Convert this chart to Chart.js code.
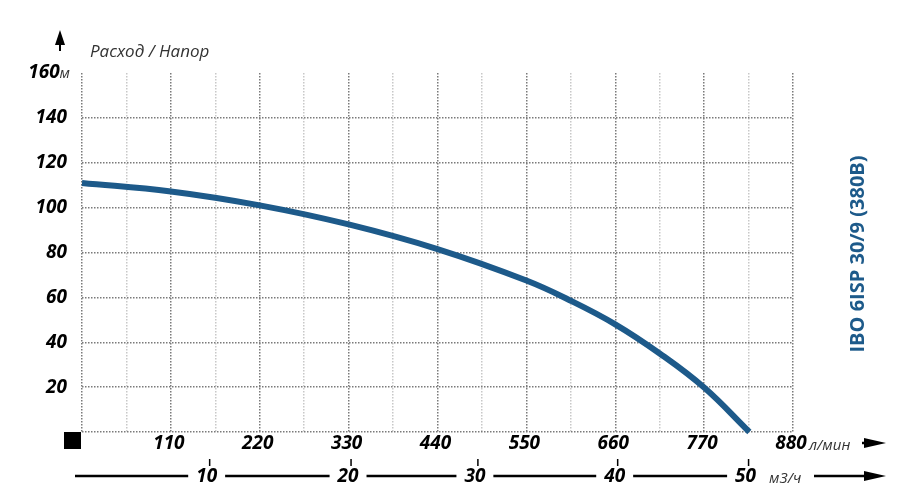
<!DOCTYPE html>
<html lang="ru">
<head>
    <meta charset="UTF-8">
    <title>IBO 6ISP 30/9 (380B)</title>
    <script src="https://cdn.jsdelivr.net/npm/chart.js"></script>
    <style>
        html, body { margin: 0; padding: 0; background: #fff; }
    </style>
</head>
<body>
<canvas id="pumpChart" width="915" height="501"></canvas>
<script>
    // расход, л/мин и напор, м
    const flow = [0, 110, 220, 330, 440, 550, 605, 660, 715, 770, 826];
    const head = [111, 107.2, 101, 92.5, 81.5, 67.5, 58.5, 48, 35, 19.8, 0];

    const headTicks = [20, 40, 60, 80, 100, 120, 140, 160];
    const flowTicks = [110, 220, 330, 440, 550, 660, 770, 880];
    // вторая шкала м3/ч и где её деления стоят на оси л/мин
    const m3hLabels = ['10', '20', '30', '40', '50'];
    const m3hAtFlow = [158, 333, 490, 663, 825];

    const title = 'IBO 6ISP 30/9 (380B)';
    const blue = '#1d5a8a';
    const boldFont = 'italic bold 19px "Open Sans"';
    const unitFont = 'italic 15px "Open Sans"';

    function arrow(ctx, x1, x2, y) {
        ctx.beginPath();
        ctx.moveTo(x1, y);
        ctx.lineTo(x2 - 14, y);
        ctx.lineWidth = 2.5;
        ctx.stroke();
        ctx.beginPath();
        ctx.moveTo(x2, y);
        ctx.lineTo(x2 - 22, y - 5);
        ctx.lineTo(x2 - 22, y + 5);
        ctx.closePath();
        ctx.fill();
    }

    const labelsPlugin = {
        id: 'labels',
        afterDraw(chart) {
            const ctx = chart.ctx;
            const xs = chart.scales.x, ys = chart.scales.y;
            ctx.save();
            ctx.fillStyle = '#000';
            ctx.strokeStyle = '#000';

            // шкала напора
            ctx.textBaseline = 'middle';
            headTicks.forEach(v => {
                const y = ys.getPixelForValue(v);
                if (v === 160) {
                    ctx.font = unitFont;
                    ctx.fillStyle = '#333';
                    ctx.textAlign = 'right';
                    ctx.fillText('м', 70, y + 1);
                    const w = ctx.measureText('м').width;
                    ctx.font = boldFont;
                    ctx.fillStyle = '#000';
                    ctx.fillText('160', 70 - w, y);
                } else {
                    ctx.font = boldFont;
                    ctx.textAlign = 'right';
                    ctx.fillText(String(v), 67, y);
                }
            });

            // шкала расхода
            ctx.textAlign = 'center';
            ctx.font = boldFont;
            flowTicks.forEach(v => {
                ctx.fillText(String(v), xs.getPixelForValue(v) - 2, 444);
            });
            ctx.font = unitFont;
            ctx.fillStyle = '#333';
            ctx.textAlign = 'left';
            ctx.fillText('л/мин', 809, 446);
            ctx.fillStyle = '#000';
            arrow(ctx, 862, 886, 443);

            // вторая ось м3/ч
            arrow(ctx, 75, 886, 476);
            ctx.font = boldFont;
            ctx.textAlign = 'center';
            m3hAtFlow.forEach((f, i) => {
                const x = xs.getPixelForValue(f);
                ctx.lineWidth = 1.5;
                ctx.beginPath();
                ctx.moveTo(x, 459);
                ctx.lineTo(x, 466);
                ctx.stroke();
                const w = ctx.measureText(m3hLabels[i]).width;
                ctx.fillStyle = '#fff';
                ctx.fillRect(x - 3 - w / 2 - 8, 466, w + 16, 20);
                ctx.fillStyle = '#000';
                ctx.fillText(m3hLabels[i], x - 3, 477);
            });
            ctx.fillStyle = '#fff';
            ctx.fillRect(758, 466, 56, 20);
            ctx.font = unitFont;
            ctx.fillStyle = '#333';
            ctx.textAlign = 'left';
            ctx.fillText('м3/ч', 769, 479);

            // квадрат в начале координат
            ctx.fillStyle = '#000';
            ctx.fillRect(64, 432, 17, 17);

            // стрелка вверх и подпись
            ctx.beginPath();
            ctx.moveTo(60, 30);
            ctx.lineTo(55, 45);
            ctx.lineTo(65, 45);
            ctx.closePath();
            ctx.fill();
            ctx.lineWidth = 2;
            ctx.beginPath();
            ctx.moveTo(60, 44);
            ctx.lineTo(60, 51);
            ctx.stroke();
            ctx.font = 'italic 17px "Open Sans"';
            ctx.fillStyle = '#333';
            ctx.textAlign = 'left';
            ctx.textBaseline = 'alphabetic';
            ctx.fillText('Расход / Напор', 90, 57);

            // название насоса
            ctx.translate(858, 254);
            ctx.rotate(-Math.PI / 2);
            ctx.font = 'bold 20px "Open Sans"';
            ctx.fillStyle = blue;
            ctx.textAlign = 'center';
            ctx.textBaseline = 'middle';
            ctx.fillText(title, 0, 0);
            ctx.restore();
        }
    };

    new Chart(document.getElementById('pumpChart'), {
        type: 'scatter',
        data: {
            datasets: [{
                data: flow.map((f, i) => ({ x: f, y: head[i] })),
                showLine: true,
                borderColor: blue,
                borderWidth: 6,
                pointRadius: 0,
                tension: 0.4,
                clip: false
            }]
        },
        options: {
            responsive: false,
            animation: false,
            layout: { padding: { left: 82, right: 122, top: 73, bottom: 69 } },
            plugins: { legend: { display: false }, tooltip: { enabled: false } },
            scales: {
                x: {
                    type: 'linear', min: 0, max: 880,
                    ticks: { display: false, stepSize: 55 },
                    border: { display: false, dash: [1.5, 1.5] },
                    grid: {
                        drawTicks: false,
                        lineWidth: 1.5,
                        color: c => c.tick.value % 110 === 0 ? '#7a7a7a' : '#c8c8c8'
                    }
                },
                y: {
                    min: 0, max: 160,
                    ticks: { display: false, stepSize: 20 },
                    border: { display: false, dash: [1.5, 1.5] },
                    grid: {
                        drawTicks: false,
                        lineWidth: 1.5,
                        color: c => c.tick.value === 160 ? 'rgba(0,0,0,0)' : '#7a7a7a'
                    }
                }
            }
        },
        plugins: [labelsPlugin]
    });
</script>
</body>
</html>
